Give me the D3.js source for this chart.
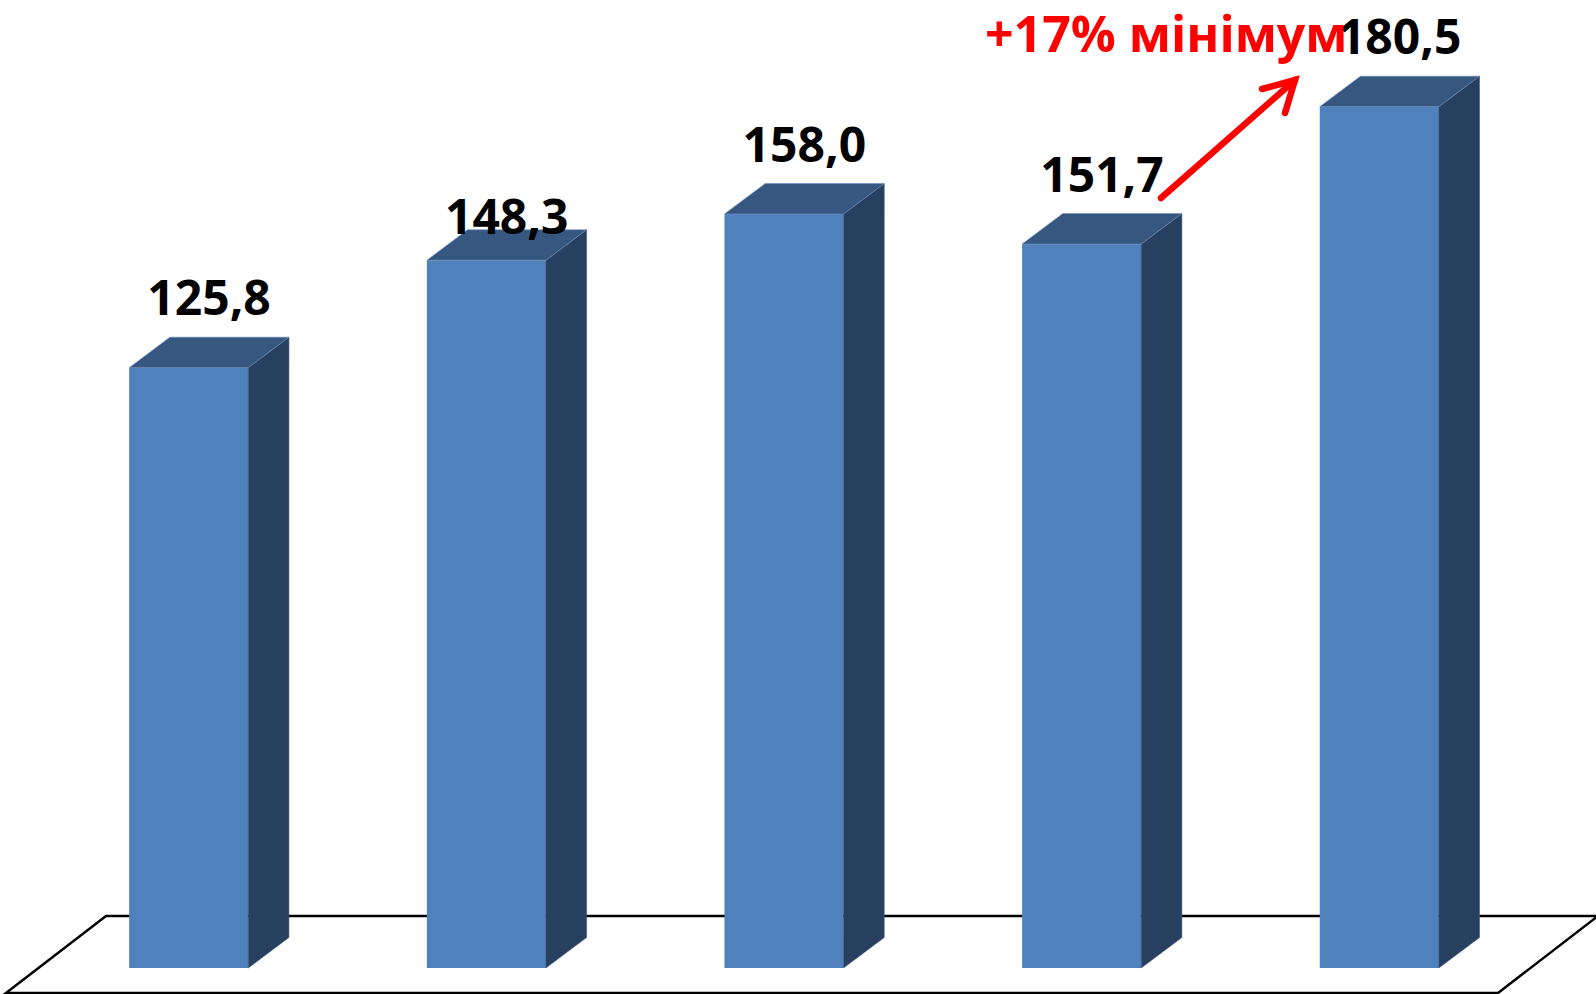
<!DOCTYPE html>
<html>
<meta charset="utf-8">
<style>
  body { margin: 0; background: #fff; }
  text { font-family: "Open Sans", "DejaVu Sans", sans-serif; font-weight: 700; }
</style>
<body>
</body>
<script src="https://cdn.jsdelivr.net/npm/d3@7"></script>
<script>

var categories = ["I", "II", "III", "IV", "V"];
var values = [125.8, 148.3, 158.0, 151.7, 180.5];
var valueLabels = ["125,8", "148,3", "158,0", "151,7", "180,5"];
var noteText = "+17% мінімум";

var width = 1596,
    height = 994;

var svg = d3.select("body").append("svg")
    .attr("width", width)
    .attr("height", height);

var x = d3.scaleBand()
    .domain(categories)
    .range([0, 1568])
    .paddingInner(0.6)
    .paddingOuter(0.434);

var y = d3.scaleLinear()
    .domain([0, 200])
    .range([968, 13.6]);

// depth of the 3d look
var dx = 40.7, dy = 30.5;

// floor (drawn first so the bars sit over its back edge)
var floorL = 6, floorR = 1498, floorY = 993, fdx = 100, fdy = 77;
svg.append("path")
  .attr("d", "M" + floorL + "," + floorY + " L" + (floorL + fdx) + "," + (floorY - fdy) +
             " L" + (floorR + fdx) + "," + (floorY - fdy) + " L" + floorR + "," + floorY + " Z")
  .attr("fill", "none")
  .attr("stroke", "#000")
  .attr("stroke-width", 2.5)
  .attr("stroke-linejoin", "miter");

var bars = svg.selectAll(".bar")
  .data(values)
  .enter().append("g")
    .attr("class", "bar");

// front
bars.append("rect")
  .attr("x", function (d, i) { return x(categories[i]); })
  .attr("y", function (d) { return y(d); })
  .attr("width", x.bandwidth())
  .attr("height", function (d) { return y(0) - y(d); })
  .attr("fill", "#4f81bd");

// side
bars.append("path")
  .attr("d", function (d, i) {
    var x1 = x(categories[i]) + x.bandwidth();
    return "M" + x1 + "," + y(d) + " L" + (x1 + dx) + "," + (y(d) - dy) +
           " L" + (x1 + dx) + "," + (y(0) - dy) + " L" + x1 + "," + y(0) + " Z";
  })
  .attr("fill", "#28405f")
  .attr("stroke", "#3d5a80")
  .attr("stroke-width", 0.6);

// top
bars.append("path")
  .attr("d", function (d, i) {
    var x0 = x(categories[i]), x1 = x0 + x.bandwidth();
    return "M" + x0 + "," + y(d) + " L" + (x0 + dx) + "," + (y(d) - dy) +
           " L" + (x1 + dx) + "," + (y(d) - dy) + " L" + x1 + "," + y(d) + " Z";
  })
  .attr("fill", "#36577f")
  .attr("stroke", "#6f8fbc")
  .attr("stroke-width", 0.6);

// value labels; the second one sits lower in the original
var labelShift = [0, 26, 0, 0, 0];
bars.append("text")
  .attr("x", function (d, i) { return x(categories[i]) + x.bandwidth() / 2 + dx / 2; })
  .attr("y", function (d, i) { return y(d) - dy - 22 + labelShift[i]; })
  .attr("text-anchor", "middle")
  .attr("font-size", 48)
  .attr("fill", "#000")
  .text(function (d, i) { return valueLabels[i]; });

// red note with arrow
svg.append("text")
  .attr("x", 985)
  .attr("y", 52)
  .attr("font-size", 50)
  .attr("fill", "#ff0000")
  .text(noteText);

var arrow = svg.append("g")
  .attr("stroke", "#ff0000")
  .attr("stroke-width", 6.5)
  .attr("stroke-linecap", "round")
  .attr("fill", "none");

var ax0 = 1161, ay0 = 198, ax1 = 1295, ay1 = 80;
arrow.append("path").attr("d", "M" + ax0 + "," + ay0 + " L" + ax1 + "," + ay1);
arrow.append("path").attr("d", "M" + (ax1 - 33) + "," + (ay1 + 9) + " L" + ax1 + "," + ay1 + " L" + (ax1 - 10) + "," + (ay1 + 33));

</script>
</html>
